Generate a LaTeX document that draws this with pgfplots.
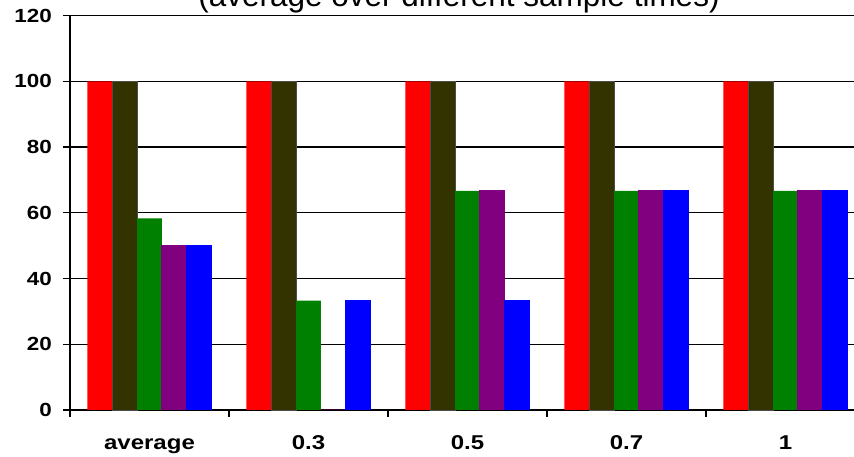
\documentclass[border=0pt]{standalone}
\usepackage{pgfplots}
\pgfplotsset{compat=1.18}
\usepackage{fontspec}
\setmainfont{Liberation Sans}
\definecolor{cRed}{HTML}{FF0000}
\definecolor{cOlive}{HTML}{333300}
\definecolor{cGreen}{HTML}{008000}
\definecolor{cPurple}{HTML}{800080}
\definecolor{cBlue}{HTML}{0000FF}
\newcommand{\xl}[1]{\scalebox{1.2}[1]{#1}}
\begin{document}
\begin{tikzpicture}[x=1pt,y=1pt]
\begin{axis}[
  at={(70pt,47pt)}, anchor=south west,
  scale only axis, width=784pt, height=394.3pt,
  xmin=-0.5, xmax=4.431, ymin=0, ymax=120,
  ybar=0pt, bar width=0.156,
  axis x line*=bottom, axis y line*=left,
  axis line style={-, line width=1.3pt, black},
  ytick={0,20,...,120},
  ymajorgrids, major grid style={line width=1.3pt, black},
  xtick={0,1,2,3,4},
  xticklabels={\xl{average},\xl{0.3},\xl{0.5},\xl{0.7},\xl{1}},
  minor xtick={-0.5,0.5,1.5,2.5,3.5},
  major x tick style={draw=none},
  tick align=outside,
  major tick length=7pt, minor tick length=7pt,
  tick style={line width=1.3pt, black},
  minor x tick style={line width=1.3pt, black},
  /pgf/number format/assume math mode=true,
  yticklabel={\scalebox{1.18}[1]{\pgfmathprintnumber{\tick}}},
  yticklabel style={font=\fontsize{19}{19}\selectfont\bfseries, anchor=east, inner sep=0pt, xshift=-11pt},
  xticklabel style={font=\fontsize{20}{20}\selectfont\bfseries, anchor=base, inner sep=0pt, yshift=-32.5pt},
  clip=false,
]
\addplot[fill=cRed, draw=none] coordinates {(0,100) (1,100) (2,100) (3,100) (4,100)};
\addplot[fill=cOlive, draw=black!70, line width=0.8pt] coordinates {(0,100) (1,100) (2,100) (3,100) (4,100)};
\addplot[fill=cGreen, draw=none] coordinates {(0,58.3) (1,33.3) (2,66.7) (3,66.7) (4,66.7)};
\addplot[fill=cPurple, draw=cPurple, line width=1pt] coordinates {(0,50) (1,0) (2,66.7) (3,66.7) (4,66.7)};
\addplot[fill=cBlue, draw=cBlue, line width=1pt] coordinates {(0,50) (1,33.3) (2,33.3) (3,66.7) (4,66.7)};
\end{axis}
\node[anchor=base, font=\fontsize{31.5}{31.5}\selectfont, inner sep=0pt] at (459pt,450pt) {(average over different sample times)};
\pgfresetboundingbox
\path[use as bounding box] (0,0) rectangle (854pt,457pt);
\end{tikzpicture}
\end{document}
